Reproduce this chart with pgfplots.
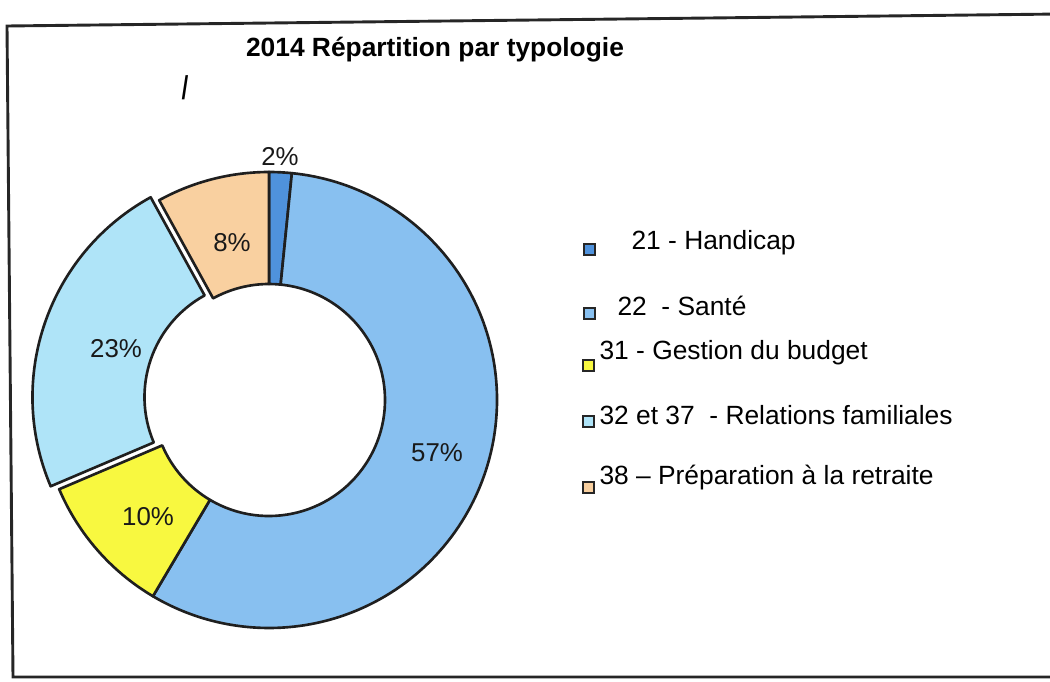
\documentclass[border=0pt]{standalone}
\usepackage{pgfplots}
\usepackage{pgfplotstable}
\pgfplotsset{compat=1.18}
\usepackage{fontspec}
\setmainfont{Liberation Sans}

\definecolor{cHand}{HTML}{4F92DC}
\definecolor{cSante}{HTML}{88C0F0}
\definecolor{cBudget}{HTML}{F8F840}
\definecolor{cFam}{HTML}{AFE4F8}
\definecolor{cRetr}{HTML}{F9D0A0}

% share of each typology (percent), clockwise from the top
\pgfplotstableread{
name   value col     explode
hand   1.6   cHand   0
sante  56.9  cSante  0
budget 10.1  cBudget 0
fam    23.4  cFam    9
retr   8.0   cRetr   0
}\piedata

\begin{document}
\begin{tikzpicture}
\begin{axis}[
  width=14cm, height=9.0933cm, scale only axis,
  xmin=0, xmax=1050, ymin=0, ymax=682, y dir=reverse,
  hide axis, clip=false,
]
% frame of the scanned page
\draw[line width=1.1pt, black!85] (axis cs:1060,14) -- (axis cs:7,26) -- (axis cs:13,677) -- (axis cs:1060,677);

% donut slices
\pgfplotstablegetrowsof{\piedata}
\pgfmathtruncatemacro\nrows{\pgfplotsretval-1}
\def\cum{0}
\pgfplotsforeachungrouped \i in {0,...,\nrows}{
  \pgfplotstablegetelem{\i}{value}\of\piedata \let\val\pgfplotsretval
  \pgfplotstablegetelem{\i}{col}\of\piedata \let\col\pgfplotsretval
  \pgfplotstablegetelem{\i}{explode}\of\piedata \let\ex\pgfplotsretval
  \pgfmathsetmacro\ta{3.6*\cum}
  \pgfmathsetmacro\tb{3.6*(\cum+\val)}
  \pgfmathsetmacro\tm{(\ta+\tb)/2}
  \pgfmathsetmacro\cx{269+\ex*sin(\tm)}
  \pgfmathsetmacro\cy{400-\ex*cos(\tm)}
  \pgfmathsetmacro\xa{\cx+228*sin(\ta)}
  \pgfmathsetmacro\ya{\cy-228*cos(\ta)}
  \pgfmathsetmacro\xb{\cx+116*sin(\tb)}
  \pgfmathsetmacro\yb{\cy-116*cos(\tb)}
  \pgfmathsetmacro\aa{90-\ta}
  \pgfmathsetmacro\ab{90-\tb}
  \edef\temp{\noexpand\filldraw[fill=\col, draw=black!88, line width=1pt, line join=round]
    (axis cs:\xa,\ya) arc[start angle=\aa, end angle=\ab, radius=3.04cm]
    -- (axis cs:\xb,\yb) arc[start angle=\ab, end angle=\aa, radius=1.5467cm] -- cycle;}
  \temp
  \pgfmathsetmacro\cum{\cum+\val}
}

% slice labels
\begin{scope}[font=\fontsize{9.8}{11}\selectfont, text=black!90]
\node at (axis cs:280,157) {2\%};
\node at (axis cs:232,243) {8\%};
\node at (axis cs:116,349) {23\%};
\node at (axis cs:148,517) {10\%};
\node at (axis cs:437,453) {57\%};
\end{scope}

% title
\node[font=\bfseries\fontsize{10}{12}\selectfont] at (axis cs:435,50) {2014 Répartition par typologie};
\node[font=\fontsize{12.5}{14}\selectfont, xslant=-0.12] at (axis cs:185,88) {/};

% legend
\begin{scope}[font=\fontsize{10}{12}\selectfont]
\filldraw[fill=cHand, draw=black!85, line width=0.8pt] (axis cs:584,244) rectangle (axis cs:595,255);
\filldraw[fill=cSante, draw=black!85, line width=0.8pt] (axis cs:584,308) rectangle (axis cs:595,319);
\filldraw[fill=cBudget, draw=black!85, line width=0.8pt] (axis cs:583,360) rectangle (axis cs:594,371);
\filldraw[fill=cFam, draw=black!85, line width=0.8pt] (axis cs:583,416) rectangle (axis cs:594,427);
\filldraw[fill=cRetr, draw=black!85, line width=0.8pt] (axis cs:583,482) rectangle (axis cs:594,493);
\node[anchor=west, inner sep=0pt] at (axis cs:631,243) {21 - Handicap};
\node[anchor=west, inner sep=0pt] at (axis cs:617,306) {22 \ - Santé};
\node[anchor=west, inner sep=0pt] at (axis cs:599,353) {31 - Gestion du budget};
\node[anchor=west, inner sep=0pt] at (axis cs:599,415) {32 et 37 \ - Relations familiales};
\node[anchor=west, inner sep=0pt] at (axis cs:599,478) {38 – Préparation à la retraite};
\end{scope}
\end{axis}
\pgfresetboundingbox
\useasboundingbox (0,0) rectangle (14cm,9.0933cm);
\end{tikzpicture}
\end{document}
